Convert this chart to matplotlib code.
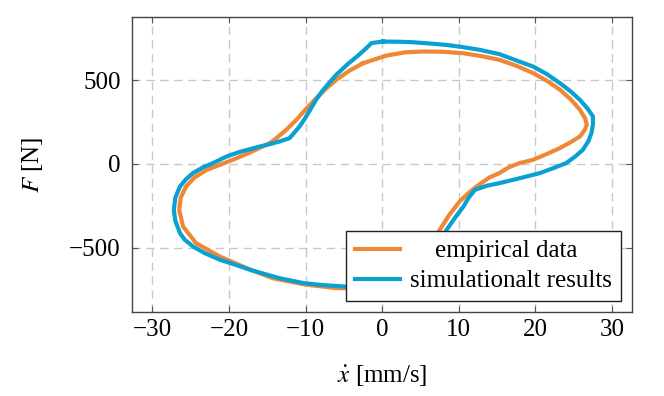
import matplotlib
matplotlib.use("Agg")
import matplotlib.pyplot as plt

plt.rcParams['font.family'] = ['Liberation Serif', 'DejaVu Serif']
plt.rcParams['mathtext.fontset'] = 'stix'

# empirical data (velocity mm/s, force N), closed loop
emp_x = [-2.5, 0.5, 3.0, 5.5, 8.0, 10.5, 13.0, 15.3, 17.5, 19.7, 21.5, 23.2, 24.6, 25.8,
         26.5, 26.7, 26.4, 25.8, 24.6, 23.2, 21.5, 19.7, 17.9, 16.5, 15.3, 14.0, 12.3,
         11.2, 10.1, 8.8, 7.5, 6.3, 4.8, 3.0, 0.5, -2.5, -6.0, -10.0, -14.3, -17.7,
         -21.2, -24.3, -26.0, -26.5, -26.3, -25.6, -24.5, -22.9, -21.2, -19.5, -17.2,
         -14.7, -13.8, -12.5, -11.2, -9.9, -8.6, -7.3, -6.0, -4.3, -2.5]
emp_y = [600, 645, 665, 670, 668, 660, 642, 620, 585, 541, 495, 442, 385, 323,
         270, 233, 200, 164, 130, 95, 60, 25, 5, -20, -54, -80, -134,
         -175, -223, -300, -392, -500, -600, -680, -725, -740, -739, -718, -680, -620,
         -551, -471, -372, -274, -200, -134, -80, -35, -5, 25, 70,
         124, 154, 205, 263, 330, 392, 450, 501, 555, 600]

# simulation results
sim_x = [0.1, 2.0, 4.0, 6.0, 8.4, 10.5, 12.7, 15.3, 17.3, 19.7, 21.5, 23.2, 24.6, 25.8,
         26.8, 27.5, 27.5, 27.3, 26.9, 26.2, 25.2, 24.0, 22.3, 20.6, 18.0, 15.3, 13.6,
         12.1, 11.3, 10.6, 9.5, 8.4, 7.2, 5.5, 3.0, 0.0, -3.0, -5.1, -8.0, -10.3, -13.4,
         -16.9, -19.5, -21.2, -23.2, -24.7, -25.8, -26.4, -27.0, -27.2, -27.0, -26.4,
         -25.6, -24.7, -23.4, -22.1, -20.3, -18.6, -16.0, -14.7, -13.4, -12.1, -11.5,
         -10.8, -10.1, -9.4, -8.6, -7.7, -6.0, -4.5, -3.3, -2.3, -1.4, 0.1]
sim_y = [729, 728, 725, 718, 709, 696, 680, 654, 620, 580, 535, 481, 432, 382,
         330, 283, 235, 184, 135, 85, 45, 5, -25, -54, -84, -114, -130,
         -154, -200, -253, -320, -392, -490, -590, -680, -728, -735, -729, -720, -709, -680,
         -635, -595, -570, -530, -491, -450, -411, -340, -274, -200, -134,
         -90, -54, -20, 5, 45, 72, 104, 118, 134, 154, 185,
         223, 270, 323, 385, 442, 531, 595, 640, 680, 720, 729]

orange = '#EE8836'
blue = '#0AA0D2'

fig = plt.figure(figsize=(6.64, 3.96), dpi=100)
ax = fig.add_axes([131.7/664, 1 - 312.3/396, (632 - 131.7)/664, (312.3 - 16.7)/396])

ax.plot(emp_x, emp_y, color=orange, lw=3.0, label='    empirical data', solid_joinstyle='round')
ax.plot(sim_x, sim_y, color=blue, lw=3.0, label='simulationalt results', solid_joinstyle='round')

ax.set_xlim(-32.7, 32.6)
ax.set_ylim(-883, 877)
ax.set_xticks([-30, -20, -10, 0, 10, 20, 30])
ax.set_yticks([-500, 0, 500])
ax.set_xticklabels(['\u221230', '\u221220', '\u221210', '0', '10', '20', '30'])
ax.set_yticklabels(['\u2212500', '0', '500'])
ax.tick_params(direction='in', top=True, right=True, labelsize=18, length=4,
               color='#555555')
ax.tick_params(axis='x', pad=5)
ax.tick_params(axis='y', pad=8)
ax.grid(True, color='#c8c8c8', linestyle=(0, (6, 4)), lw=1.0)
ax.set_axisbelow(True)
for s in ax.spines.values():
    s.set_color('#444444')
    s.set_linewidth(1.0)

ax.set_xlabel(r'$\dot{x}$ [mm/s]', fontsize=18, labelpad=16)
ax.set_ylabel(r'$F$ [N]', fontsize=18, labelpad=17)

leg = ax.legend(loc='lower right', fontsize=18, frameon=True, fancybox=False,
                edgecolor='#222222', framealpha=1.0, borderpad=0.35, handlelength=1.8,
                labelspacing=0.3, handletextpad=0.4, borderaxespad=0.45)
leg.get_frame().set_linewidth(1.0)

fig.savefig('out.png', dpi=100)
